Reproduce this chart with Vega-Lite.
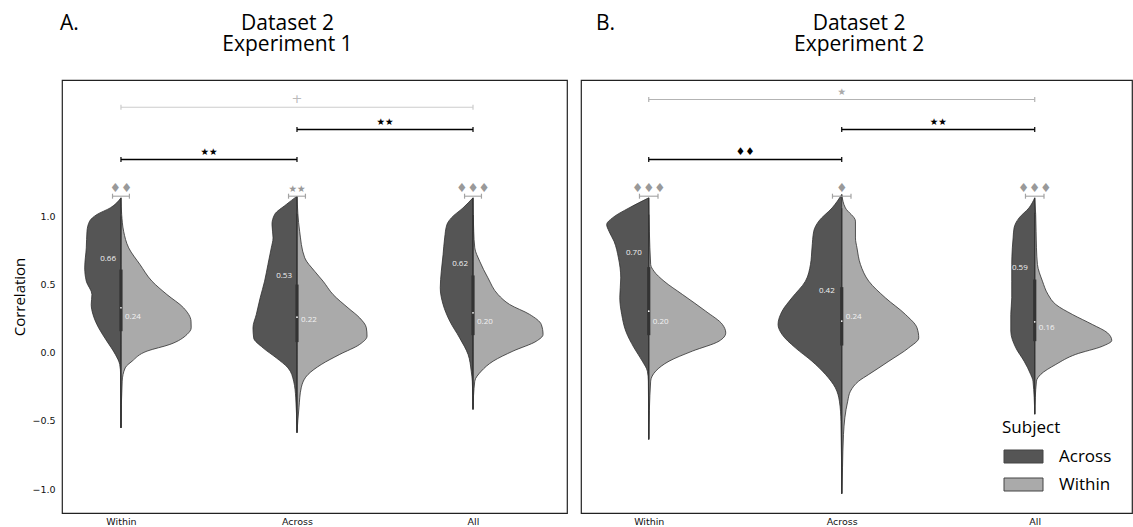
{
  "$schema": "https://vega.github.io/schema/vega-lite/v6.json",
  "background": "white",
  "padding": {"left": 12, "top": 12, "right": 0, "bottom": 0},
  "spacing": 12,
  "datasets": {
    "panels": [
      {"panel": "A", "letter": "A.", "heading": ["Dataset 2", "Experiment 1"]},
      {"panel": "B", "letter": "B.", "heading": ["Dataset 2", "Experiment 2"]}
    ],
    "violins": [
      {"panel":"A","group":"Within","subject":"Across","corr":1.136,"density":0},
      {"panel":"A","group":"Within","subject":"Across","corr":1.062,"density":0.061},
      {"panel":"A","group":"Within","subject":"Across","corr":1.014,"density":0.136},
      {"panel":"A","group":"Within","subject":"Across","corr":0.965,"density":0.178},
      {"panel":"A","group":"Within","subject":"Across","corr":0.891,"density":0.193},
      {"panel":"A","group":"Within","subject":"Across","corr":0.769,"density":0.197},
      {"panel":"A","group":"Within","subject":"Across","corr":0.622,"density":0.206},
      {"panel":"A","group":"Within","subject":"Across","corr":0.525,"density":0.197},
      {"panel":"A","group":"Within","subject":"Across","corr":0.427,"density":0.165},
      {"panel":"A","group":"Within","subject":"Across","corr":0.354,"density":0.169},
      {"panel":"A","group":"Within","subject":"Across","corr":0.281,"density":0.159},
      {"panel":"A","group":"Within","subject":"Across","corr":0.183,"density":0.127},
      {"panel":"A","group":"Within","subject":"Across","corr":0.085,"density":0.080},
      {"panel":"A","group":"Within","subject":"Across","corr":-0.012,"density":0.032},
      {"panel":"A","group":"Within","subject":"Across","corr":-0.086,"density":0.007},
      {"panel":"A","group":"Within","subject":"Across","corr":-0.159,"density":0.002},
      {"panel":"A","group":"Within","subject":"Across","corr":-0.551,"density":0},
      {"panel":"A","group":"Within","subject":"Within","corr":1.136,"density":0},
      {"panel":"A","group":"Within","subject":"Within","corr":1.014,"density":0.004},
      {"panel":"A","group":"Within","subject":"Within","corr":0.891,"density":0.015},
      {"panel":"A","group":"Within","subject":"Within","corr":0.769,"density":0.044},
      {"panel":"A","group":"Within","subject":"Within","corr":0.647,"density":0.108},
      {"panel":"A","group":"Within","subject":"Within","corr":0.525,"density":0.176},
      {"panel":"A","group":"Within","subject":"Within","corr":0.427,"density":0.261},
      {"panel":"A","group":"Within","subject":"Within","corr":0.329,"density":0.356},
      {"panel":"A","group":"Within","subject":"Within","corr":0.232,"density":0.398},
      {"panel":"A","group":"Within","subject":"Within","corr":0.183,"density":0.399},
      {"panel":"A","group":"Within","subject":"Within","corr":0.134,"density":0.375},
      {"panel":"A","group":"Within","subject":"Within","corr":0.061,"density":0.278},
      {"panel":"A","group":"Within","subject":"Within","corr":0.012,"density":0.148},
      {"panel":"A","group":"Within","subject":"Within","corr":-0.062,"density":0.063},
      {"panel":"A","group":"Within","subject":"Within","corr":-0.111,"density":0.024},
      {"panel":"A","group":"Within","subject":"Within","corr":-0.208,"density":0.007},
      {"panel":"A","group":"Within","subject":"Within","corr":-0.551,"density":0},
      {"panel":"A","group":"Across","subject":"Across","corr":1.148,"density":0},
      {"panel":"A","group":"Across","subject":"Across","corr":1.087,"density":0.061},
      {"panel":"A","group":"Across","subject":"Across","corr":1.014,"density":0.127},
      {"panel":"A","group":"Across","subject":"Across","corr":0.941,"density":0.142},
      {"panel":"A","group":"Across","subject":"Across","corr":0.842,"density":0.136},
      {"panel":"A","group":"Across","subject":"Across","corr":0.769,"density":0.146},
      {"panel":"A","group":"Across","subject":"Across","corr":0.647,"density":0.165},
      {"panel":"A","group":"Across","subject":"Across","corr":0.525,"density":0.184},
      {"panel":"A","group":"Across","subject":"Across","corr":0.403,"density":0.209},
      {"panel":"A","group":"Across","subject":"Across","corr":0.281,"density":0.231},
      {"panel":"A","group":"Across","subject":"Across","corr":0.183,"density":0.25},
      {"panel":"A","group":"Across","subject":"Across","corr":0.109,"density":0.246},
      {"panel":"A","group":"Across","subject":"Across","corr":0.036,"density":0.193},
      {"panel":"A","group":"Across","subject":"Across","corr":-0.037,"density":0.118},
      {"panel":"A","group":"Across","subject":"Across","corr":-0.111,"density":0.051},
      {"panel":"A","group":"Across","subject":"Across","corr":-0.208,"density":0.019},
      {"panel":"A","group":"Across","subject":"Across","corr":-0.331,"density":0.007},
      {"panel":"A","group":"Across","subject":"Across","corr":-0.587,"density":0},
      {"panel":"A","group":"Across","subject":"Within","corr":1.148,"density":0},
      {"panel":"A","group":"Across","subject":"Within","corr":0.891,"density":0.015},
      {"panel":"A","group":"Across","subject":"Within","corr":0.696,"density":0.044},
      {"panel":"A","group":"Across","subject":"Within","corr":0.598,"density":0.1},
      {"panel":"A","group":"Across","subject":"Within","corr":0.525,"density":0.148},
      {"panel":"A","group":"Across","subject":"Within","corr":0.427,"density":0.205},
      {"panel":"A","group":"Across","subject":"Within","corr":0.329,"density":0.29},
      {"panel":"A","group":"Across","subject":"Within","corr":0.256,"density":0.356},
      {"panel":"A","group":"Across","subject":"Within","corr":0.183,"density":0.394},
      {"panel":"A","group":"Across","subject":"Within","corr":0.122,"density":0.398},
      {"panel":"A","group":"Across","subject":"Within","corr":0.061,"density":0.356},
      {"panel":"A","group":"Across","subject":"Within","corr":-0.012,"density":0.243},
      {"panel":"A","group":"Across","subject":"Within","corr":-0.086,"density":0.138},
      {"panel":"A","group":"Across","subject":"Within","corr":-0.159,"density":0.063},
      {"panel":"A","group":"Across","subject":"Within","corr":-0.257,"density":0.024},
      {"panel":"A","group":"Across","subject":"Within","corr":-0.404,"density":0.011},
      {"panel":"A","group":"Across","subject":"Within","corr":-0.587,"density":0},
      {"panel":"A","group":"All","subject":"Across","corr":1.136,"density":0},
      {"panel":"A","group":"All","subject":"Across","corr":1.062,"density":0.057},
      {"panel":"A","group":"All","subject":"Across","corr":0.989,"density":0.123},
      {"panel":"A","group":"All","subject":"Across","corr":0.941,"density":0.148},
      {"panel":"A","group":"All","subject":"Across","corr":0.842,"density":0.161},
      {"panel":"A","group":"All","subject":"Across","corr":0.72,"density":0.17},
      {"panel":"A","group":"All","subject":"Across","corr":0.598,"density":0.18},
      {"panel":"A","group":"All","subject":"Across","corr":0.476,"density":0.186},
      {"panel":"A","group":"All","subject":"Across","corr":0.354,"density":0.17},
      {"panel":"A","group":"All","subject":"Across","corr":0.232,"density":0.132},
      {"panel":"A","group":"All","subject":"Across","corr":0.109,"density":0.076},
      {"panel":"A","group":"All","subject":"Across","corr":-0.012,"density":0.028},
      {"panel":"A","group":"All","subject":"Across","corr":-0.135,"density":0.01},
      {"panel":"A","group":"All","subject":"Across","corr":-0.208,"density":0.004},
      {"panel":"A","group":"All","subject":"Across","corr":-0.416,"density":0},
      {"panel":"A","group":"All","subject":"Within","corr":1.136,"density":0},
      {"panel":"A","group":"All","subject":"Within","corr":0.891,"density":0.004},
      {"panel":"A","group":"All","subject":"Within","corr":0.769,"density":0.01},
      {"panel":"A","group":"All","subject":"Within","corr":0.671,"density":0.038},
      {"panel":"A","group":"All","subject":"Within","corr":0.549,"density":0.085},
      {"panel":"A","group":"All","subject":"Within","corr":0.427,"density":0.142},
      {"panel":"A","group":"All","subject":"Within","corr":0.354,"density":0.208},
      {"panel":"A","group":"All","subject":"Within","corr":0.281,"density":0.322},
      {"panel":"A","group":"All","subject":"Within","corr":0.207,"density":0.388},
      {"panel":"A","group":"All","subject":"Within","corr":0.134,"density":0.398},
      {"panel":"A","group":"All","subject":"Within","corr":0.085,"density":0.36},
      {"panel":"A","group":"All","subject":"Within","corr":0.012,"density":0.227},
      {"panel":"A","group":"All","subject":"Within","corr":-0.062,"density":0.114},
      {"panel":"A","group":"All","subject":"Within","corr":-0.135,"density":0.047},
      {"panel":"A","group":"All","subject":"Within","corr":-0.208,"density":0.01},
      {"panel":"A","group":"All","subject":"Within","corr":-0.416,"density":0},
      {"panel":"B","group":"Within","subject":"Across","corr":1.136,"density":0},
      {"panel":"B","group":"Within","subject":"Across","corr":1.062,"density":0.102},
      {"panel":"B","group":"Within","subject":"Across","corr":0.989,"density":0.188},
      {"panel":"B","group":"Within","subject":"Across","corr":0.941,"density":0.218},
      {"panel":"B","group":"Within","subject":"Across","corr":0.891,"density":0.206},
      {"panel":"B","group":"Within","subject":"Across","corr":0.818,"density":0.18},
      {"panel":"B","group":"Within","subject":"Across","corr":0.696,"density":0.157},
      {"panel":"B","group":"Within","subject":"Across","corr":0.549,"density":0.145},
      {"panel":"B","group":"Within","subject":"Across","corr":0.403,"density":0.15},
      {"panel":"B","group":"Within","subject":"Across","corr":0.281,"density":0.14},
      {"panel":"B","group":"Within","subject":"Across","corr":0.159,"density":0.119},
      {"panel":"B","group":"Within","subject":"Across","corr":0.036,"density":0.076},
      {"panel":"B","group":"Within","subject":"Across","corr":-0.062,"density":0.033},
      {"panel":"B","group":"Within","subject":"Across","corr":-0.135,"density":0.007},
      {"panel":"B","group":"Within","subject":"Across","corr":-0.208,"density":0.002},
      {"panel":"B","group":"Within","subject":"Across","corr":-0.636,"density":0},
      {"panel":"B","group":"Within","subject":"Within","corr":1.136,"density":0},
      {"panel":"B","group":"Within","subject":"Within","corr":0.647,"density":0.01},
      {"panel":"B","group":"Within","subject":"Within","corr":0.598,"density":0.027},
      {"panel":"B","group":"Within","subject":"Within","corr":0.525,"density":0.079},
      {"panel":"B","group":"Within","subject":"Within","corr":0.427,"density":0.175},
      {"panel":"B","group":"Within","subject":"Within","corr":0.305,"density":0.295},
      {"panel":"B","group":"Within","subject":"Within","corr":0.207,"density":0.382},
      {"panel":"B","group":"Within","subject":"Within","corr":0.146,"density":0.399},
      {"panel":"B","group":"Within","subject":"Within","corr":0.085,"density":0.364},
      {"panel":"B","group":"Within","subject":"Within","corr":0.012,"density":0.226},
      {"panel":"B","group":"Within","subject":"Within","corr":-0.062,"density":0.105},
      {"panel":"B","group":"Within","subject":"Within","corr":-0.135,"density":0.036},
      {"panel":"B","group":"Within","subject":"Within","corr":-0.208,"density":0.01},
      {"panel":"B","group":"Within","subject":"Within","corr":-0.636,"density":0},
      {"panel":"B","group":"Across","subject":"Across","corr":1.16,"density":0},
      {"panel":"B","group":"Across","subject":"Across","corr":1.062,"density":0.05},
      {"panel":"B","group":"Across","subject":"Across","corr":0.965,"density":0.119},
      {"panel":"B","group":"Across","subject":"Across","corr":0.891,"density":0.145},
      {"panel":"B","group":"Across","subject":"Across","corr":0.769,"density":0.154},
      {"panel":"B","group":"Across","subject":"Across","corr":0.647,"density":0.162},
      {"panel":"B","group":"Across","subject":"Across","corr":0.525,"density":0.188},
      {"panel":"B","group":"Across","subject":"Across","corr":0.403,"density":0.258},
      {"panel":"B","group":"Across","subject":"Across","corr":0.305,"density":0.309},
      {"panel":"B","group":"Across","subject":"Across","corr":0.207,"density":0.33},
      {"panel":"B","group":"Across","subject":"Across","corr":0.134,"density":0.309},
      {"panel":"B","group":"Across","subject":"Across","corr":0.036,"density":0.24},
      {"panel":"B","group":"Across","subject":"Across","corr":-0.062,"density":0.154},
      {"panel":"B","group":"Across","subject":"Across","corr":-0.159,"density":0.084},
      {"panel":"B","group":"Across","subject":"Across","corr":-0.257,"density":0.033},
      {"panel":"B","group":"Across","subject":"Across","corr":-0.355,"density":0.012},
      {"panel":"B","group":"Across","subject":"Across","corr":-0.502,"density":0.004},
      {"panel":"B","group":"Across","subject":"Across","corr":-1.034,"density":0},
      {"panel":"B","group":"Across","subject":"Within","corr":1.16,"density":0},
      {"panel":"B","group":"Across","subject":"Within","corr":1.062,"density":0.019},
      {"panel":"B","group":"Across","subject":"Within","corr":0.965,"density":0.071},
      {"panel":"B","group":"Across","subject":"Within","corr":0.842,"density":0.071},
      {"panel":"B","group":"Across","subject":"Within","corr":0.769,"density":0.079},
      {"panel":"B","group":"Across","subject":"Within","corr":0.647,"density":0.097},
      {"panel":"B","group":"Across","subject":"Within","corr":0.525,"density":0.14},
      {"panel":"B","group":"Across","subject":"Within","corr":0.403,"density":0.226},
      {"panel":"B","group":"Across","subject":"Within","corr":0.281,"density":0.33},
      {"panel":"B","group":"Across","subject":"Within","corr":0.183,"density":0.39},
      {"panel":"B","group":"Across","subject":"Within","corr":0.109,"density":0.399},
      {"panel":"B","group":"Across","subject":"Within","corr":0.036,"density":0.347},
      {"panel":"B","group":"Across","subject":"Within","corr":-0.062,"density":0.244},
      {"panel":"B","group":"Across","subject":"Within","corr":-0.111,"density":0.192},
      {"panel":"B","group":"Across","subject":"Within","corr":-0.159,"density":0.14},
      {"panel":"B","group":"Across","subject":"Within","corr":-0.208,"density":0.088},
      {"panel":"B","group":"Across","subject":"Within","corr":-0.282,"density":0.045},
      {"panel":"B","group":"Across","subject":"Within","corr":-0.355,"density":0.031},
      {"panel":"B","group":"Across","subject":"Within","corr":-0.477,"density":0.016},
      {"panel":"B","group":"Across","subject":"Within","corr":-0.599,"density":0.009},
      {"panel":"B","group":"Across","subject":"Within","corr":-0.844,"density":0.004},
      {"panel":"B","group":"Across","subject":"Within","corr":-1.034,"density":0},
      {"panel":"B","group":"All","subject":"Across","corr":1.136,"density":0},
      {"panel":"B","group":"All","subject":"Across","corr":1.062,"density":0.03},
      {"panel":"B","group":"All","subject":"Across","corr":0.989,"density":0.081},
      {"panel":"B","group":"All","subject":"Across","corr":0.916,"density":0.107},
      {"panel":"B","group":"All","subject":"Across","corr":0.842,"density":0.112},
      {"panel":"B","group":"All","subject":"Across","corr":0.769,"density":0.116},
      {"panel":"B","group":"All","subject":"Across","corr":0.647,"density":0.119},
      {"panel":"B","group":"All","subject":"Across","corr":0.525,"density":0.119},
      {"panel":"B","group":"All","subject":"Across","corr":0.403,"density":0.119},
      {"panel":"B","group":"All","subject":"Across","corr":0.281,"density":0.124},
      {"panel":"B","group":"All","subject":"Across","corr":0.159,"density":0.124},
      {"panel":"B","group":"All","subject":"Across","corr":0.036,"density":0.098},
      {"panel":"B","group":"All","subject":"Across","corr":-0.062,"density":0.055},
      {"panel":"B","group":"All","subject":"Across","corr":-0.159,"density":0.021},
      {"panel":"B","group":"All","subject":"Across","corr":-0.208,"density":0.009},
      {"panel":"B","group":"All","subject":"Across","corr":-0.45,"density":0},
      {"panel":"B","group":"All","subject":"Within","corr":1.136,"density":0},
      {"panel":"B","group":"All","subject":"Within","corr":1.014,"density":0.005},
      {"panel":"B","group":"All","subject":"Within","corr":0.769,"density":0.009},
      {"panel":"B","group":"All","subject":"Within","corr":0.647,"density":0.014},
      {"panel":"B","group":"All","subject":"Within","corr":0.525,"density":0.04},
      {"panel":"B","group":"All","subject":"Within","corr":0.427,"density":0.069},
      {"panel":"B","group":"All","subject":"Within","corr":0.354,"density":0.109},
      {"panel":"B","group":"All","subject":"Within","corr":0.281,"density":0.195},
      {"panel":"B","group":"All","subject":"Within","corr":0.207,"density":0.299},
      {"panel":"B","group":"All","subject":"Within","corr":0.146,"density":0.377},
      {"panel":"B","group":"All","subject":"Within","corr":0.09,"density":0.399},
      {"panel":"B","group":"All","subject":"Within","corr":0.048,"density":0.351},
      {"panel":"B","group":"All","subject":"Within","corr":-0.012,"density":0.212},
      {"panel":"B","group":"All","subject":"Within","corr":-0.086,"density":0.109},
      {"panel":"B","group":"All","subject":"Within","corr":-0.159,"density":0.031},
      {"panel":"B","group":"All","subject":"Within","corr":-0.208,"density":0.009},
      {"panel":"B","group":"All","subject":"Within","corr":-0.45,"density":0}
    ],
    "boxes": [
      {"panel":"A","group":"Within","q1":0.158,"q3":0.61,"lo":-0.55,"hi":1.0,"med":0.33},
      {"panel":"A","group":"Across","q1":0.078,"q3":0.5,"lo":-0.58,"hi":1.02,"med":0.261},
      {"panel":"A","group":"All","q1":0.129,"q3":0.567,"lo":-0.41,"hi":1.01,"med":0.293},
      {"panel":"B","group":"Within","q1":0.129,"q3":0.628,"lo":-0.63,"hi":1.014,"med":0.305},
      {"panel":"B","group":"Across","q1":0.053,"q3":0.481,"lo":-1.03,"hi":1.06,"med":0.232},
      {"panel":"B","group":"All","q1":0.085,"q3":0.537,"lo":-0.45,"hi":1.026,"med":0.227}
    ],
    "medians": [
      {"panel":"A","group":"Within","subject":"Across","value":0.66},
      {"panel":"A","group":"Within","subject":"Within","value":0.24},
      {"panel":"A","group":"Across","subject":"Across","value":0.53},
      {"panel":"A","group":"Across","subject":"Within","value":0.22},
      {"panel":"A","group":"All","subject":"Across","value":0.62},
      {"panel":"A","group":"All","subject":"Within","value":0.20},
      {"panel":"B","group":"Within","subject":"Across","value":0.70},
      {"panel":"B","group":"Within","subject":"Within","value":0.20},
      {"panel":"B","group":"Across","subject":"Across","value":0.42},
      {"panel":"B","group":"Across","subject":"Within","value":0.24},
      {"panel":"B","group":"All","subject":"Across","value":0.59},
      {"panel":"B","group":"All","subject":"Within","value":0.16}
    ],
    "brackets": [
      {"panel":"A","kind":"top","from":"Within","to":"All","level":1.80,"label":"+"},
      {"panel":"A","kind":"pair","from":"Across","to":"All","level":1.637,"label":"★★"},
      {"panel":"A","kind":"pair","from":"Within","to":"Across","level":1.417,"label":"★★"},
      {"panel":"A","kind":"self","from":"Within","to":"Within","level":1.148,"label":"♦♦"},
      {"panel":"A","kind":"self","from":"Across","to":"Across","level":1.148,"label":"★★"},
      {"panel":"A","kind":"self","from":"All","to":"All","level":1.148,"label":"♦♦♦"},
      {"panel":"B","kind":"top","from":"Within","to":"All","level":1.857,"label":"★"},
      {"panel":"B","kind":"pair","from":"Across","to":"All","level":1.637,"label":"★★"},
      {"panel":"B","kind":"pair","from":"Within","to":"Across","level":1.417,"label":"♦♦"},
      {"panel":"B","kind":"self","from":"Within","to":"Within","level":1.148,"label":"♦♦♦"},
      {"panel":"B","kind":"self","from":"Across","to":"Across","level":1.148,"label":"♦"},
      {"panel":"B","kind":"self","from":"All","to":"All","level":1.148,"label":"♦♦♦"}
    ]
  },
  "hconcat": [
    {
      "width": 505,
      "height": 433,
      "layer": [
        {
          "data": {"name": "violins"},
          "transform": [
            {"filter": "datum.panel == 'A'"},
            {"calculate": "indexof(['Within','Across','All'], datum.group)", "as": "idx"},
            {"calculate": "datum.idx + (datum.subject == 'Across' ? -datum.density : datum.density)", "as": "edge"}
          ],
          "mark": {"type": "area", "orient": "horizontal", "interpolate": "monotone", "stroke": "#2e2e2e", "strokeWidth": 0.8, "opacity": 1},
          "encoding": {
            "y": {"field": "corr", "type": "quantitative", "scale": {"domain": [-1.175, 2.0], "nice": false, "zero": false},
                  "axis": {"values": [-1, -0.5, 0, 0.5, 1], "format": ".1f", "title": "Correlation", "titleFontSize": 15, "titlePadding": 4, "labelFontSize": 9.5, "labelPadding": 7}},
            "x": {"field": "idx", "type": "quantitative", "stack": null, "scale": {"domain": [-0.335, 2.534], "nice": false, "zero": false},
                  "axis": {"values": [0, 1, 2], "labelExpr": "['Within','Across','All'][datum.value]", "title": null, "labelFontSize": 9.5, "labelPadding": 3}},
            "x2": {"field": "edge"},
            "color": {"field": "subject", "type": "nominal", "scale": {"domain": ["Across", "Within"], "range": ["#555555", "#aaaaaa"]}, "legend": null},
            "detail": {"field": "group"}
          }
        },
        {
          "data": {"name": "boxes"},
          "transform": [
            {"filter": "datum.panel == 'A'"},
            {"calculate": "indexof(['Within','Across','All'], datum.group)", "as": "idx"}
          ],
          "mark": {"type": "rule", "color": "#333333", "strokeWidth": 1.2},
          "encoding": {
            "x": {"field": "idx", "type": "quantitative"},
            "y": {"field": "lo", "type": "quantitative"},
            "y2": {"field": "hi"}
          }
        },
        {
          "data": {"name": "boxes"},
          "transform": [
            {"filter": "datum.panel == 'A'"},
            {"calculate": "indexof(['Within','Across','All'], datum.group)", "as": "idx"}
          ],
          "mark": {"type": "rule", "color": "#333333", "strokeWidth": 3.2},
          "encoding": {
            "x": {"field": "idx", "type": "quantitative"},
            "y": {"field": "q1", "type": "quantitative"},
            "y2": {"field": "q3"}
          }
        },
        {
          "data": {"name": "boxes"},
          "transform": [
            {"filter": "datum.panel == 'A'"},
            {"calculate": "indexof(['Within','Across','All'], datum.group)", "as": "idx"}
          ],
          "mark": {"type": "point", "filled": true, "color": "#ffffff", "size": 3, "opacity": 1},
          "encoding": {
            "x": {"field": "idx", "type": "quantitative"},
            "y": {"field": "med", "type": "quantitative"}
          }
        },
        {
          "data": {"name": "medians"},
          "transform": [
            {"filter": "datum.panel == 'A' && datum.subject == 'Across'"},
            {"calculate": "indexof(['Within','Across','All'], datum.group)", "as": "idx"}
          ],
          "mark": {"type": "text", "align": "right", "baseline": "middle", "dx": -5, "dy": -4, "fontSize": 8, "font": "Open Sans", "color": "#f2f2f2"},
          "encoding": {
            "x": {"field": "idx", "type": "quantitative"},
            "y": {"field": "value", "type": "quantitative"},
            "text": {"field": "value", "format": ".2f"}
          }
        },
        {
          "data": {"name": "medians"},
          "transform": [
            {"filter": "datum.panel == 'A' && datum.subject == 'Within'"},
            {"calculate": "indexof(['Within','Across','All'], datum.group)", "as": "idx"}
          ],
          "mark": {"type": "text", "align": "left", "baseline": "middle", "dx": 4, "dy": -3, "fontSize": 8, "font": "Open Sans", "color": "#f2f2f2"},
          "encoding": {
            "x": {"field": "idx", "type": "quantitative"},
            "y": {"field": "value", "type": "quantitative"},
            "text": {"field": "value", "format": ".2f"}
          }
        },
        {
          "data": {"name": "brackets"},
          "transform": [
            {"filter": "datum.panel == 'A'"},
            {"calculate": "indexof(['Within','Across','All'], datum.from) - (datum.kind == 'self' ? 0.048 : 0)", "as": "a"},
            {"calculate": "indexof(['Within','Across','All'], datum.to) + (datum.kind == 'self' ? 0.048 : 0)", "as": "b"}
          ],
          "mark": {"type": "rule"},
          "encoding": {
            "x": {"field": "a", "type": "quantitative"},
            "x2": {"field": "b"},
            "y": {"field": "level", "type": "quantitative"},
            "color": {"condition": [{"test": "datum.kind == 'pair'", "value": "#000000"}, {"test": "datum.kind == 'top'", "value": "#cccccc"}], "value": "#a3a3a3"},
            "strokeWidth": {"condition": {"test": "datum.kind == 'pair'", "value": 1.4}, "value": 1.1}
          }
        },
        {
          "data": {"name": "brackets"},
          "transform": [
            {"filter": "datum.panel == 'A'"},
            {"calculate": "indexof(['Within','Across','All'], datum.from) - (datum.kind == 'self' ? 0.048 : 0)", "as": "a"},
            {"calculate": "indexof(['Within','Across','All'], datum.to) + (datum.kind == 'self' ? 0.048 : 0)", "as": "b"},
            {"fold": ["a", "b"], "as": ["end", "xpos"]}
          ],
          "mark": {"type": "tick", "orient": "vertical", "size": 5, "thickness": 1.2, "opacity": 1},
          "encoding": {
            "x": {"field": "xpos", "type": "quantitative"},
            "y": {"field": "level", "type": "quantitative"},
            "color": {"condition": [{"test": "datum.kind == 'pair'", "value": "#000000"}, {"test": "datum.kind == 'top'", "value": "#cccccc"}], "value": "#a3a3a3"}
          }
        },
        {
          "data": {"name": "brackets"},
          "transform": [
            {"filter": "datum.panel == 'A'"},
            {"calculate": "(indexof(['Within','Across','All'], datum.from) + indexof(['Within','Across','All'], datum.to)) / 2", "as": "mid"}
          ],
          "mark": {"type": "text", "baseline": "alphabetic", "align": "center", "dy": -4.5, "font": "DejaVu Sans"},
          "encoding": {
            "x": {"field": "mid", "type": "quantitative"},
            "y": {"field": "level", "type": "quantitative"},
            "text": {"field": "label"},
            "color": {"condition": [{"test": "datum.kind == 'pair'", "value": "#000000"}, {"test": "datum.kind == 'top'", "value": "#bbbbbb"}], "value": "#999999"},
            "size": {"condition": [{"test": "indexof(datum.label, '★') >= 0", "value": 9.5}, {"test": "datum.label == '+'", "value": 13}, {"test": "datum.kind == 'self'", "value": 12.5}], "value": 10.5}
          }
        },
        {
          "data": {"name": "panels"},
          "transform": [{"filter": "datum.panel == 'A'"}],
          "mark": {"type": "text", "align": "left", "baseline": "alphabetic", "fontSize": 21, "font": "Open Sans", "color": "#000000"},
          "encoding": {
            "x": {"datum": -0.347, "type": "quantitative"},
            "y": {"datum": 2.366, "type": "quantitative"},
            "text": {"field": "letter"}
          }
        },
        {
          "data": {"name": "panels"},
          "transform": [{"filter": "datum.panel == 'A'"}],
          "mark": {"type": "text", "align": "center", "baseline": "alphabetic", "fontSize": 21, "lineHeight": 21, "font": "Open Sans", "color": "#000000"},
          "encoding": {
            "x": {"datum": 0.946, "type": "quantitative"},
            "y": {"datum": 2.366, "type": "quantitative"},
            "text": {"field": "heading"}
          }
        }
      ]
    },
    {
      "width": 551,
      "height": 433,
      "layer": [
        {
          "data": {"name": "violins"},
          "transform": [
            {"filter": "datum.panel == 'B'"},
            {"calculate": "indexof(['Within','Across','All'], datum.group)", "as": "idx"},
            {"calculate": "datum.idx + (datum.subject == 'Across' ? -datum.density : datum.density)", "as": "edge"}
          ],
          "mark": {"type": "area", "orient": "horizontal", "interpolate": "monotone", "stroke": "#2e2e2e", "strokeWidth": 0.8, "opacity": 1},
          "encoding": {
            "y": {"field": "corr", "type": "quantitative", "scale": {"domain": [-1.175, 2.0], "nice": false, "zero": false}, "axis": null},
            "x": {"field": "idx", "type": "quantitative", "stack": null, "scale": {"domain": [-0.351, 2.504], "nice": false, "zero": false},
                  "axis": {"values": [0, 1, 2], "labelExpr": "['Within','Across','All'][datum.value]", "title": null, "labelFontSize": 9.5, "labelPadding": 3}},
            "x2": {"field": "edge"},
            "color": {"field": "subject", "type": "nominal", "scale": {"domain": ["Across", "Within"], "range": ["#555555", "#aaaaaa"]},
                      "legend": {"title": "Subject", "orient": "none", "legendX": 421, "legendY": 340, "symbolType": "M-1,-1H5V1H-1Z", "symbolSize": 169,
                                 "symbolStrokeColor": "#444444", "symbolStrokeWidth": 1, "symbolOpacity": 1,
                                 "labelFont": "Open Sans", "labelFontSize": 17, "labelColor": "#000000", "labelOffset": 40,
                                 "titleFont": "Open Sans", "titleFontSize": 17, "titleFontWeight": "normal", "titleColor": "#000000", "titlePadding": 11,
                                 "rowPadding": 10, "padding": 0}},
            "detail": {"field": "group"}
          }
        },
        {
          "data": {"name": "boxes"},
          "transform": [
            {"filter": "datum.panel == 'B'"},
            {"calculate": "indexof(['Within','Across','All'], datum.group)", "as": "idx"}
          ],
          "mark": {"type": "rule", "color": "#333333", "strokeWidth": 1.2},
          "encoding": {
            "x": {"field": "idx", "type": "quantitative"},
            "y": {"field": "lo", "type": "quantitative"},
            "y2": {"field": "hi"}
          }
        },
        {
          "data": {"name": "boxes"},
          "transform": [
            {"filter": "datum.panel == 'B'"},
            {"calculate": "indexof(['Within','Across','All'], datum.group)", "as": "idx"}
          ],
          "mark": {"type": "rule", "color": "#333333", "strokeWidth": 3.2},
          "encoding": {
            "x": {"field": "idx", "type": "quantitative"},
            "y": {"field": "q1", "type": "quantitative"},
            "y2": {"field": "q3"}
          }
        },
        {
          "data": {"name": "boxes"},
          "transform": [
            {"filter": "datum.panel == 'B'"},
            {"calculate": "indexof(['Within','Across','All'], datum.group)", "as": "idx"}
          ],
          "mark": {"type": "point", "filled": true, "color": "#ffffff", "size": 3, "opacity": 1},
          "encoding": {
            "x": {"field": "idx", "type": "quantitative"},
            "y": {"field": "med", "type": "quantitative"}
          }
        },
        {
          "data": {"name": "medians"},
          "transform": [
            {"filter": "datum.panel == 'B' && datum.subject == 'Across'"},
            {"calculate": "indexof(['Within','Across','All'], datum.group)", "as": "idx"}
          ],
          "mark": {"type": "text", "align": "right", "baseline": "middle", "dx": -7, "dy": -4, "fontSize": 8, "font": "Open Sans", "color": "#f2f2f2"},
          "encoding": {
            "x": {"field": "idx", "type": "quantitative"},
            "y": {"field": "value", "type": "quantitative"},
            "text": {"field": "value", "format": ".2f"}
          }
        },
        {
          "data": {"name": "medians"},
          "transform": [
            {"filter": "datum.panel == 'B' && datum.subject == 'Within'"},
            {"calculate": "indexof(['Within','Across','All'], datum.group)", "as": "idx"}
          ],
          "mark": {"type": "text", "align": "left", "baseline": "middle", "dx": 4, "dy": -3, "fontSize": 8, "font": "Open Sans", "color": "#f2f2f2"},
          "encoding": {
            "x": {"field": "idx", "type": "quantitative"},
            "y": {"field": "value", "type": "quantitative"},
            "text": {"field": "value", "format": ".2f"}
          }
        },
        {
          "data": {"name": "brackets"},
          "transform": [
            {"filter": "datum.panel == 'B'"},
            {"calculate": "indexof(['Within','Across','All'], datum.from) - (datum.kind == 'self' ? 0.048 : 0)", "as": "a"},
            {"calculate": "indexof(['Within','Across','All'], datum.to) + (datum.kind == 'self' ? 0.048 : 0)", "as": "b"}
          ],
          "mark": {"type": "rule"},
          "encoding": {
            "x": {"field": "a", "type": "quantitative"},
            "x2": {"field": "b"},
            "y": {"field": "level", "type": "quantitative"},
            "color": {"condition": [{"test": "datum.kind == 'pair'", "value": "#000000"}, {"test": "datum.kind == 'top'", "value": "#b3b3b3"}], "value": "#a3a3a3"},
            "strokeWidth": {"condition": {"test": "datum.kind == 'pair'", "value": 1.4}, "value": 1.1}
          }
        },
        {
          "data": {"name": "brackets"},
          "transform": [
            {"filter": "datum.panel == 'B'"},
            {"calculate": "indexof(['Within','Across','All'], datum.from) - (datum.kind == 'self' ? 0.048 : 0)", "as": "a"},
            {"calculate": "indexof(['Within','Across','All'], datum.to) + (datum.kind == 'self' ? 0.048 : 0)", "as": "b"},
            {"fold": ["a", "b"], "as": ["end", "xpos"]}
          ],
          "mark": {"type": "tick", "orient": "vertical", "size": 5, "thickness": 1.2, "opacity": 1},
          "encoding": {
            "x": {"field": "xpos", "type": "quantitative"},
            "y": {"field": "level", "type": "quantitative"},
            "color": {"condition": [{"test": "datum.kind == 'pair'", "value": "#000000"}, {"test": "datum.kind == 'top'", "value": "#b3b3b3"}], "value": "#a3a3a3"}
          }
        },
        {
          "data": {"name": "brackets"},
          "transform": [
            {"filter": "datum.panel == 'B'"},
            {"calculate": "(indexof(['Within','Across','All'], datum.from) + indexof(['Within','Across','All'], datum.to)) / 2", "as": "mid"}
          ],
          "mark": {"type": "text", "baseline": "alphabetic", "align": "center", "dy": -4.5, "font": "DejaVu Sans"},
          "encoding": {
            "x": {"field": "mid", "type": "quantitative"},
            "y": {"field": "level", "type": "quantitative"},
            "text": {"field": "label"},
            "color": {"condition": [{"test": "datum.kind == 'pair'", "value": "#000000"}, {"test": "datum.kind == 'top'", "value": "#aaaaaa"}], "value": "#999999"},
            "size": {"condition": [{"test": "indexof(datum.label, '★') >= 0", "value": 9.5}, {"test": "datum.label == '+'", "value": 13}, {"test": "datum.kind == 'self'", "value": 12.5}], "value": 10.5}
          }
        },
        {
          "data": {"name": "panels"},
          "transform": [{"filter": "datum.panel == 'B'"}],
          "mark": {"type": "text", "align": "left", "baseline": "alphabetic", "fontSize": 21, "font": "Open Sans", "color": "#000000"},
          "encoding": {
            "x": {"datum": -0.273, "type": "quantitative"},
            "y": {"datum": 2.366, "type": "quantitative"},
            "text": {"field": "letter"}
          }
        },
        {
          "data": {"name": "panels"},
          "transform": [{"filter": "datum.panel == 'B'"}],
          "mark": {"type": "text", "align": "center", "baseline": "alphabetic", "fontSize": 21, "lineHeight": 21, "font": "Open Sans", "color": "#000000"},
          "encoding": {
            "x": {"datum": 1.09, "type": "quantitative"},
            "y": {"datum": 2.366, "type": "quantitative"},
            "text": {"field": "heading"}
          }
        }
      ]
    }
  ],
  "resolve": {"scale": {"color": "independent"}, "legend": {"color": "independent"}},
  "config": {
    "view": {"stroke": "#222222", "strokeWidth": 1.2},
    "axis": {"grid": false, "ticks": false, "tickSize": 0, "domain": false, "labelFont": "DejaVu Sans", "labelColor": "#111111",
             "titleFont": "Open Sans", "titleFontWeight": "normal", "titleColor": "#000000"}
  }
}
